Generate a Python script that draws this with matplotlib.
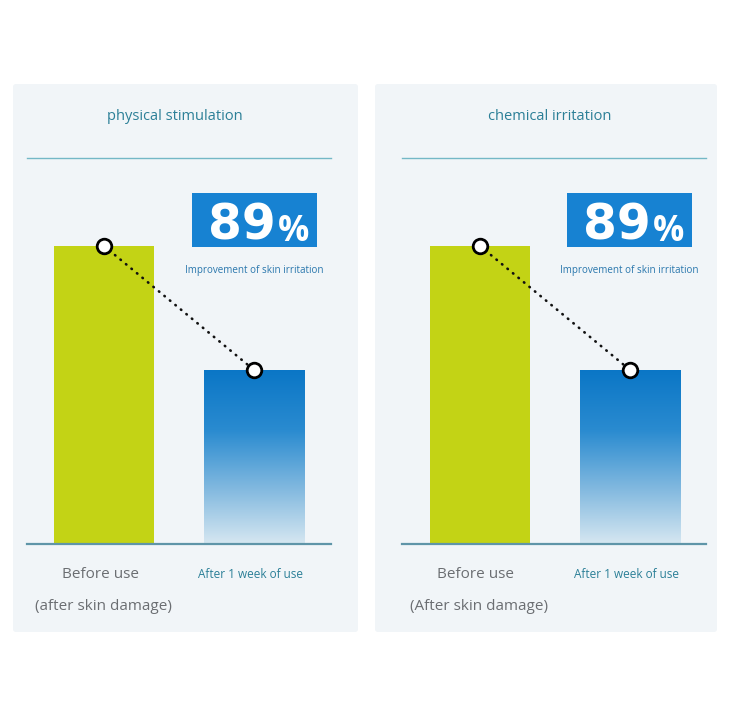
import numpy as np
import matplotlib
matplotlib.use("Agg")
import matplotlib.pyplot as plt
from matplotlib.patches import FancyBboxPatch, Rectangle
from matplotlib.colors import LinearSegmentedColormap

# ---- data ----
panel_titles = ["physical stimulation", "chemical irritation"]
categories = ["Before use", "After 1 week of use"]
sub_labels = ["(after skin damage)", "(After skin damage)"]
values_before = [100, 100]
values_after = [58.4, 58.4]
improvement = ["89", "89"]
improvement_label = "Improvement of skin irritation"

W, H = 737, 703
fig = plt.figure(figsize=(W / 100, H / 100), dpi=100)
fig.patch.set_facecolor("white")

def fx(x):
    return x / W

def fy(y):
    return 1 - y / H

FONT = ["Open Sans", "DejaVu Sans"]
GREEN = "#c3d315"
TEAL = "#2b7f97"
GRAY = "#6b6e72"
BLUE_BOX = "#1782d2"
cmap = LinearSegmentedColormap.from_list(
    "g", [(0, "#0a76c6"), (0.35, "#2a8bd0"), (0.7, "#86bbe0"), (1, "#d6e7f1")])

panels = [
    dict(bg=(13, 84, 345, 548), ax=(27, 158, 304, 386), cx0=104, box=(192, 193)),
    dict(bg=(375, 84, 342, 548), ax=(402, 158, 304, 386), cx0=480, box=(567, 193)),
]

for i, p in enumerate(panels):
    bx, by, bw, bh = p["bg"]
    fig.patches.append(FancyBboxPatch((fx(bx), fy(by + bh)), fx(bw), bh / H,
                                      boxstyle="round,pad=0,rounding_size=0.004",
                                      transform=fig.transFigure, facecolor="#f1f5f8",
                                      edgecolor="none", zorder=-5))
    axx, axy, axw, axh = p["ax"]
    ax = fig.add_axes([fx(axx), fy(axy + axh), axw / W, axh / H])
    ax.set_zorder(1)
    ax.set_facecolor("none")
    left = -(p["cx0"] - axx) / 150
    for s in ["left", "right"]:
        ax.spines[s].set_visible(False)
    ax.spines["top"].set_color("#74b8c6")
    ax.spines["top"].set_linewidth(1.0)
    ax.spines["bottom"].set_color("#5f95a8")
    ax.spines["bottom"].set_linewidth(1.6)
    ax.set_xticks([])
    ax.set_yticks([])

    xs = [0, 1]
    vals = [values_before[i], values_after[i]]
    bw_ = 0.67
    ax.bar(xs[0], vals[0], width=bw_, color=GREEN, zorder=2)
    b2 = ax.bar(xs[1], vals[1], width=bw_, color="none", zorder=2)[0]
    grad = np.linspace(0, 1, 256).reshape(-1, 1)
    im = ax.imshow(grad, cmap=cmap, aspect="auto",
                   extent=[xs[1] - bw_ / 2, xs[1] + bw_ / 2, 0, vals[1]],
                   origin="upper", zorder=2)
    im.set_clip_path(b2)
    ax.set_xlim(left, left + axw / 150)
    ax.set_ylim(0, 100 * axh / 298)

    ax.plot(xs, vals, linestyle=(0, (0.2, 2.5)), color="#111111", linewidth=1.9,
            dash_capstyle="round", zorder=3)
    ax.plot(xs, vals, linestyle="none", marker="o", markersize=10.5,
            markerfacecolor="white", markeredgecolor="black", markeredgewidth=2, zorder=4)

    # title
    tcx = axx + axw / 2 - 4
    fig.text(fx(tcx), fy(117), panel_titles[i], ha="center", va="center",
             color=TEAL, fontsize=10.5, family=FONT)

    # improvement box
    bxx, byy = p["box"]
    fig.patches.append(Rectangle((fx(bxx), fy(byy + 54)), 125 / W, 54 / H,
                                 transform=fig.transFigure, facecolor=BLUE_BOX,
                                 edgecolor="none", zorder=5))
    fig.text(fx(bxx + 84), fy(240), improvement[i], ha="right", va="baseline",
             color="white", fontsize=35, fontweight="bold", family="DejaVu Sans", zorder=6)
    fig.text(fx(bxx + 86), fy(241), "%", ha="left", va="baseline",
             color="white", fontsize=25, fontweight="bold", family=FONT, zorder=6)
    fig.text(fx(bxx + 62), fy(271), improvement_label, ha="center", va="center",
             color="#2a77ad", fontsize=7.1, family=FONT)

    # category labels
    fig.text(fx(p["cx0"] - 4), fy(574), categories[0], ha="center", va="center",
             color=GRAY, fontsize=11, family=FONT)
    fig.text(fx(p["cx0"] - 1), fy(607), sub_labels[i], ha="center", va="center",
             color=GRAY, fontsize=11, family=FONT)
    fig.text(fx(p["cx0"] + 147), fy(574), categories[1], ha="center", va="center",
             color=TEAL, fontsize=8.5, family=FONT)

fig.savefig("out.png", dpi=100)
